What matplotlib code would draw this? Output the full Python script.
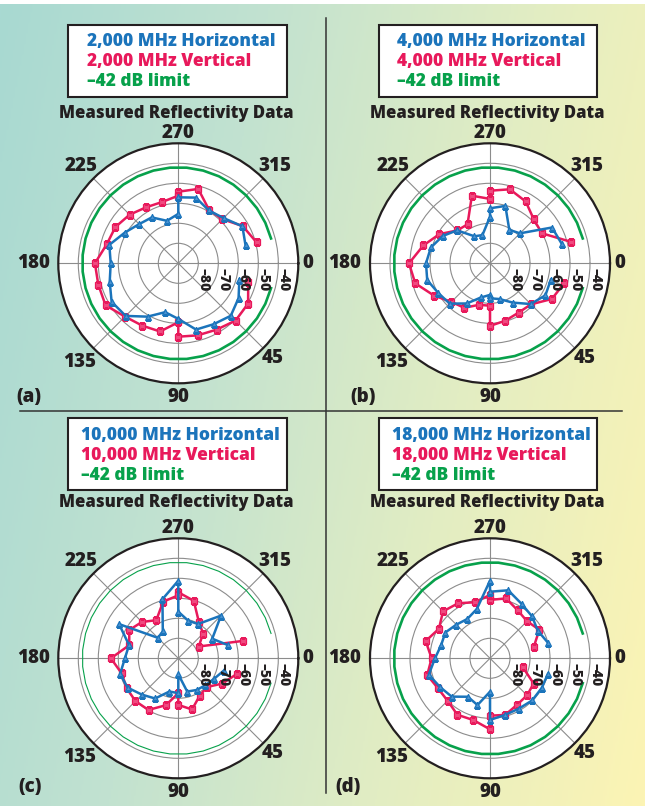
import numpy as np
import matplotlib.pyplot as plt
from matplotlib.colors import LinearSegmentedColormap
from matplotlib.patches import Rectangle

# Angles de mesure (degrés), dans l'ordre du tracé ; 90 et 270 apparaissent deux fois
ANGLES = [345, 330, 315, 300, 285, 270, 270, 255, 240, 225, 210, 195, 180,
          165, 150, 135, 120, 105, 90, 90, 75, 60, 45, 30, 15]

# Limite -42 dB (arc de 15 à 345 degrés)
LIMIT_ANGLES = [15, 25, 35, 45, 55, 65, 75, 85, 95, 105, 115, 125, 135, 145,
                155, 165, 175, 185, 195, 205, 215, 225, 235, 245, 255, 265,
                275, 285, 295, 305, 315, 325, 335, 345]
LIMIT_DB = -42

FREQS = ["2,000", "4,000", "10,000", "18,000"]
TAGS = ["(a)", "(b)", "(c)", "(d)"]

horiz_2000 = [-55.2, -53.0, -58.0, -59.5, -56.0, -57.0, -65.3, -68.0, -63.5, -62.3,
              -59.2, -54.3, -56.2, -54.5, -51.5, -52.8, -59.2, -64.7, -62.2, -62.2,
              -55.7, -54.8, -52.9, -55.2, -58.4]
vert_2000 = [-49.5, -52.8, -58.8, -59.2, -51.5, -54.2, -56.2, -58.3, -57.7, -55.6,
             -53.7, -53.0, -48.3, -48.6, -48.0, -52.3, -54.0, -54.7, -60.5, -53.3,
             -52.7, -51.7, -49.5, -49.7, -53.8]

horiz_4000 = [-52.8, -54.2, -68.8, -70.7, -60.3, -62.5, -66.7, -75.4, -74.4, -66.7,
              -62.7, -59.4, -58.0, -57.5, -60.2, -61.5, -66.8, -72.3, -74.2, -72.5,
              -71.5, -67.3, -61.2, -58.0, -58.5]
vert_4000 = [-48.3, -60.0, -59.0, -54.3, -51.7, -53.7, -57.8, -55.0, -67.5, -66.8,
             -60.8, -55.5, -49.5, -51.3, -57.7, -62.7, -64.3, -68.5, -68.8, -58.7,
             -60.3, -61.5, -61.0, -54.3, -51.6]

horiz_10000 = [-64.4, -70.4, -59.8, -70.2, -70.6, -66.7, -51.2, -59.4, -74.5, -75.5,
               -55.8, -64.5, -63.3, -59.9, -60.7, -64.3, -66.8, -72.8, -72.6, -82.0,
               -72.8, -71.7, -70.9, -69.4, -66.4]
vert_10000 = [-56.3, -78.2, -72.5, -69.3, -60.2, -57.0, -58.5, -60.7, -68.0, -64.3,
              -61.7, -64.6, -56.3, -60.7, -60.2, -59.7, -60.2, -65.7, -72.5, -66.7,
              -63.5, -68.5, -69.7, -64.7, -59.7]

horiz_18000 = [-60.0, -62.4, -60.3, -58.5, -54.8, -56.7, -51.2, -64.5, -67.3, -66.2,
               -64.2, -64.7, -62.5, -58.3, -61.2, -62.9, -67.8, -65.8, -73.3, -59.2,
               -60.7, -61.0, -60.2, -60.2, -60.0]
vert_18000 = [-67.3, -61.5, -63.8, -62.3, -59.0, -60.8, -58.3, -61.0, -58.2, -56.8,
              -60.5, -56.7, -60.8, -57.5, -60.0, -60.0, -57.4, -58.0, -54.5, -61.3,
              -60.7, -63.1, -63.8, -64.8, -73.1]

HORIZ = [horiz_2000, horiz_4000, horiz_10000, horiz_18000]
VERT = [vert_2000, vert_4000, vert_10000, vert_18000]

BLUE = "#1b74bb"
RED = "#e8195b"
GREEN = "#07a14b"
INK = "#231f20"
FONT = "Open Sans"
POIDS = "heavy"

W, H = 648, 806
fig = plt.figure(figsize=(W / 100, H / 100), dpi=100)


def fx(x):
    return x / W


def fy(y):
    return 1 - y / H


# Fond dégradé
bg = fig.add_axes([0, 0, 645 / W, 802 / H], zorder=-10)
xx, yy = np.meshgrid(np.linspace(0, 1, 300), np.linspace(0, 1, 300))
cmap = LinearSegmentedColormap.from_list("fond", ["#a8d9d2", "#c2e2d0", "#e2edc3", "#fcf4b4"])
bg.imshow(0.8 * xx + 0.2 * yy, cmap=cmap, extent=(0, 1, 0, 1), aspect="auto")
bg.axis("off")

# Séparateurs
fig.add_artist(plt.Line2D([fx(326), fx(326)], [fy(18), fy(793)], color="#333333", lw=1.1))
fig.add_artist(plt.Line2D([fx(20), fx(622)], [fy(411), fy(411)], color="#333333", lw=1.1))

centres = [(178.3, 263.3), (490, 263.3), (178.3, 658.3), (490, 658.3)]
R = 120  # rayon en pixels pour -30 dB

label_r = {0: -25, 45: -23, 90: -23, 135: -20.5, 180: -17.5, 225: -21.5, 270: -25, 315: -21.5}

for i, (cx, cy) in enumerate(centres):
    ax = fig.add_axes([fx(cx - R), fy(cy + R), 2 * R / W, 2 * R / H], projection="polar")
    ax.set_theta_zero_location("E")
    ax.set_theta_direction(-1)
    ax.set_ylim(-90, -30)
    ax.set_rgrids([-80, -70, -60, -50, -40], labels=[])
    ax.set_thetagrids(range(0, 360, 45), labels=[])
    ax.grid(color="#8c8c8c", lw=0.8)
    ax.spines["polar"].set_linewidth(1.6)
    ax.spines["polar"].set_color(INK)

    lw_lim = 0.8 if i == 2 else 1.9
    ax.plot(np.deg2rad(LIMIT_ANGLES), [LIMIT_DB] * len(LIMIT_ANGLES), color=GREEN, lw=lw_lim)
    ax.plot(np.deg2rad(ANGLES), VERT[i], color=RED, lw=1.8, marker="s", ms=4.2,
            mfc="#ef4b80", mec=RED, mew=0.9)
    ax.plot(np.deg2rad(ANGLES), HORIZ[i], color=BLUE, lw=1.8, marker="^", ms=4.6,
            mfc="#4b93d2", mec=BLUE, mew=0.9)

    # étiquettes d'angle
    for a, rr in label_r.items():
        ax.text(np.deg2rad(a), rr, str(a), ha="center", va="center", fontsize=13.5,
                fontweight=POIDS, family=FONT, color=INK, clip_on=False)

    # étiquettes radiales
    for r in [-80, -70, -60, -50, -40]:
        ax.annotate("\u2013" + str(-r), xy=(0, r), xytext=(5, -16), textcoords="offset pixels",
                    rotation=-90, ha="center", va="center", fontsize=10,
                    fontweight=POIDS, family=FONT, color=INK)

    # titre
    top = cy - 263.3
    tx = 176 if i % 2 == 0 else 487
    fig.text(fx(tx), fy(113 + top - (5 if i >= 2 else 0)), "Measured Reflectivity Data",
             ha="center", va="center", fontsize=12, fontweight=POIDS, family=FONT, color=INK)

    # boîte de légende
    if i < 2:
        bx0, by0, bx1, by1 = (68, 25, 287, 97) if i == 0 else (379, 25, 597, 97)
        ly = [42, 61, 81]
    else:
        bx0, by0, bx1, by1 = (68, 418, 287, 490) if i == 2 else (379, 418, 597, 490)
        ly = [435, 455, 476]
    fig.add_artist(Rectangle((fx(bx0), fy(by1)), (bx1 - bx0) / W, (by1 - by0) / H,
                             facecolor="white", edgecolor=INK, lw=1.5, transform=fig.transFigure))
    lx = [87, 397, 81, 392][i]
    texts = [FREQS[i] + " MHz Horizontal", FREQS[i] + " MHz Vertical", "\u201342 dB limit"]
    for t, y, c in zip(texts, ly, [BLUE, RED, GREEN]):
        fig.text(fx(lx), fy(y), t, ha="left", va="center", fontsize=12.5, fontweight=POIDS,
                 family=FONT, color=c)

    # lettre du panneau
    px = [29, 363, 30, 348][i]
    py = 397 if i < 2 else 787
    fig.text(fx(px), fy(py), TAGS[i], ha="center", va="center", fontsize=13.5,
             fontweight=POIDS, family=FONT, color=INK)

fig.savefig("out.png", dpi=100)
